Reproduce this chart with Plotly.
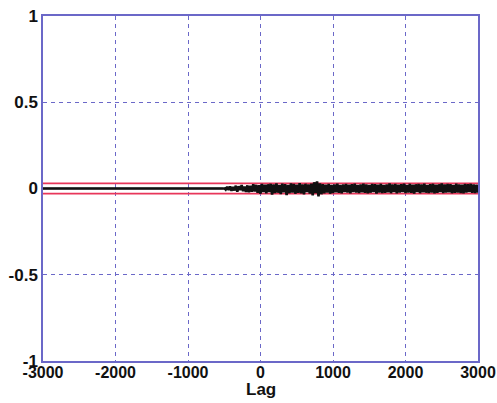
import plotly.graph_objects as go

# Axis ticks
x_ticks = [-3000, -2000, -1000, 0, 1000, 2000, 3000]
y_ticks = [-1, -0.5, 0, 0.5, 1]
y_tick_labels = ["-1", "-0.5", "0", "0.5", "1"]
x_title = "Lag"

# Confidence bounds
upper_bound = 0.03
lower_bound = -0.03

# Flat part of the cross-correlation (lags -3000 .. -520)
flat_lags = [-3000, -520]
flat_vals = [0.0, 0.0]

# Noisy part: lags -500 .. 3000, step 20 (hand-read estimates)
noise_start = -500
noise_step = 20
noise_vals = [
    0.004, -0.006, 0.010, -0.008, 0.012, -0.014, 0.009, -0.011, 0.016, -0.018, 0.013, -0.009, 0.020, -0.015, 0.011, -0.020,
    0.018, -0.022, 0.015, -0.019, 0.024, -0.017, 0.021, -0.025, 0.019, -0.030, 0.026, -0.020, 0.022, -0.028, 0.024, -0.021,
    0.027, -0.035, 0.023, -0.026, 0.030, -0.024, 0.020, -0.032, 0.028, -0.022, 0.025, -0.038, 0.021, -0.027, 0.029, -0.023,
    0.026, -0.030, 0.022, -0.025, 0.031, -0.028, 0.024, -0.034, 0.027, -0.021, 0.023, -0.029, 0.028, -0.040, 0.036, -0.026,
    0.041, -0.045, 0.030, -0.033, 0.025, -0.028, 0.022, -0.024, 0.027, -0.030, 0.021, -0.026, 0.024, -0.022, 0.028, -0.025,
    0.020, -0.027, 0.023, -0.021, 0.026, -0.024, 0.022, -0.028, 0.025, -0.020, 0.027, -0.023, 0.021, -0.026, 0.024, -0.022,
    0.028, -0.025, 0.023, -0.027, 0.020, -0.024, 0.026, -0.021, 0.025, -0.029, 0.022, -0.023, 0.027, -0.026, 0.021, -0.025,
    0.024, -0.022, 0.029, -0.027, 0.023, -0.021, 0.026, -0.028, 0.022, -0.024, 0.025, -0.020, 0.028, -0.026, 0.021, -0.023,
    0.027, -0.025, 0.022, -0.029, 0.024, -0.021, 0.026, -0.027, 0.023, -0.022, 0.028, -0.024, 0.021, -0.026, 0.025, -0.023,
    0.027, -0.028, 0.022, -0.025, 0.024, -0.021, 0.029, -0.026, 0.023, -0.024, 0.026, -0.022, 0.025, -0.027, 0.021, -0.025,
    0.028, -0.023, 0.024, -0.026, 0.022, -0.028, 0.026, -0.024, 0.025, -0.021, 0.027, -0.025, 0.023, -0.026, 0.022, -0.024,
]
noise_lags = [noise_start + noise_step * i for i in range(len(noise_vals))]

fig = go.Figure()

# Confidence bounds
fig.add_trace(go.Scatter(x=[-3000, 3000], y=[upper_bound, upper_bound], mode="lines",
                         line=dict(color="#e8365a", width=1.8), hoverinfo="skip"))
fig.add_trace(go.Scatter(x=[-3000, 3000], y=[lower_bound, lower_bound], mode="lines",
                         line=dict(color="#e8365a", width=1.8), hoverinfo="skip"))
# Zero line
fig.add_trace(go.Scatter(x=[-3000, 3000], y=[0, 0], mode="lines",
                         line=dict(color="#111111", width=2.5), hoverinfo="skip"))
# Flat part
fig.add_trace(go.Scatter(x=flat_lags, y=flat_vals, mode="lines",
                         line=dict(color="#111111", width=1.5)))
# Noisy part
fig.add_trace(go.Scatter(x=noise_lags, y=noise_vals, mode="lines",
                         line=dict(color="#111111", width=2.6)))

axis_color = "#6b68c8"
grid_color = "#6b68c8"
fam = "Liberation Sans, Arial, sans-serif"

fig.update_layout(
    width=497, height=403,
    margin=dict(l=43, r=19, t=16, b=42),
    paper_bgcolor="white", plot_bgcolor="white",
    showlegend=False,
    font=dict(family=fam, size=17, color="#111111"),
    xaxis=dict(range=[-3000, 3000], tickvals=x_ticks, ticktext=[str(v) for v in x_ticks],
               showgrid=True, gridcolor=grid_color, griddash="4px,4px", gridwidth=1,
               showline=True, linecolor=axis_color, linewidth=1.5, mirror=True,
               zeroline=False, ticks="", ticklen=0, automargin=False, ticklabelstandoff=-4,
               tickfont=dict(family=fam, size=16, color="#111111", weight="bold")),
    yaxis=dict(range=[-1, 1], tickvals=y_ticks, ticktext=y_tick_labels,
               showgrid=True, gridcolor=grid_color, griddash="4px,4px", gridwidth=1,
               showline=True, linecolor=axis_color, linewidth=1.5, mirror=True,
               zeroline=False, ticks="", ticklen=0, automargin=False,
               tickfont=dict(family=fam, size=17, color="#111111", weight="bold")),
    annotations=[dict(text="<b>" + x_title + "</b>", xref="paper", yref="paper",
                      x=0.5, y=-0.084, xanchor="center", yanchor="middle", showarrow=False,
                      font=dict(family=fam, size=17, color="#111111"))],
)

fig.write_html("out.html")
